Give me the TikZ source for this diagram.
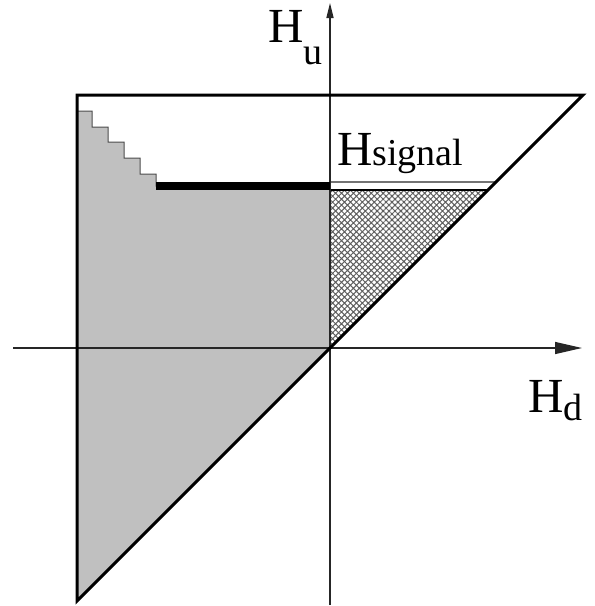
\documentclass[tikz,border=0pt]{standalone}
\usepackage{fontspec}
\setmainfont{Liberation Serif}
\usetikzlibrary{arrows.meta, patterns.meta}

\definecolor{regiongray}{RGB}{192,192,192}
\definecolor{hatchgray}{RGB}{95,95,95}

\begin{document}
\begin{tikzpicture}[
    x=1pt, y=-1pt,
    axis/.style={line width=1.3pt, draw=black!85},
    frame/.style={line width=3pt, line join=miter},
    allowed/.style={fill=regiongray, draw=black!70, line width=1pt},
    signal/.style={pattern={Hatch[angle=45, distance=4.2pt, line width=1pt]}, pattern color=hatchgray},
    bigH/.style={anchor=base west, inner sep=0pt, font=\fontsize{49}{49}\selectfont}
]
\useasboundingbox (0,0) rectangle (595,606);

% ---- corner points ----
\coordinate (tl) at (77,95);
\coordinate (tr) at (583,95);
\coordinate (bl) at (77,601);
\coordinate (origin) at (330,348);
\coordinate (xlo) at (13,348);
\coordinate (xhi) at (582,348);
\coordinate (ylo) at (330,605);
\coordinate (yhi) at (330,3);
\coordinate (barL) at (156,186);
\coordinate (barR) at (330,186);
\coordinate (sigL) at (330,190);
\coordinate (sigR) at (488,190);
\coordinate (limL) at (330,182);
\coordinate (limR) at (496,182);

% ---- regions ----
\path[allowed] (77,111) -- (92,111) -- (92,127) -- (108,127) -- (108,142) -- (124,142)
    -- (124,158) -- (140,158) -- (140,174) -- (156,174) -- (barL) -- (barR)
    -- (origin) -- (bl) -- cycle;
\fill[white] (sigL) -- (sigR) -- (origin) -- cycle;
\fill[signal] (sigL) -- (sigR) -- (origin) -- cycle;
\draw[line width=1.2pt] (sigL) -- (sigR);
\draw[line width=1.3pt, draw=black!55] (limL) -- (limR);

% ---- axes ----
\draw[axis, -{Triangle[length=27pt, width=12pt]}] (xlo) -- (xhi);
\draw[axis, -{Triangle[length=15pt, width=7pt]}] (ylo) -- (yhi);

% ---- frame ----
\draw[frame] (tl) -- (tr) -- (bl) -- cycle;
\draw[line width=8pt] (barL) -- (barR);

% ---- labels ----
\node[bigH] (hu) at (268,42) {H\raisebox{-22pt}{\fontsize{38}{38}\selectfont u}};
\node[bigH] (hd) at (528,412) {H\raisebox{-8pt}{\fontsize{38}{38}\selectfont d}};
\node[bigH] (hsig) at (337,165) {H{\fontsize{38}{38}\selectfont signal}};

\end{tikzpicture}
\end{document}
